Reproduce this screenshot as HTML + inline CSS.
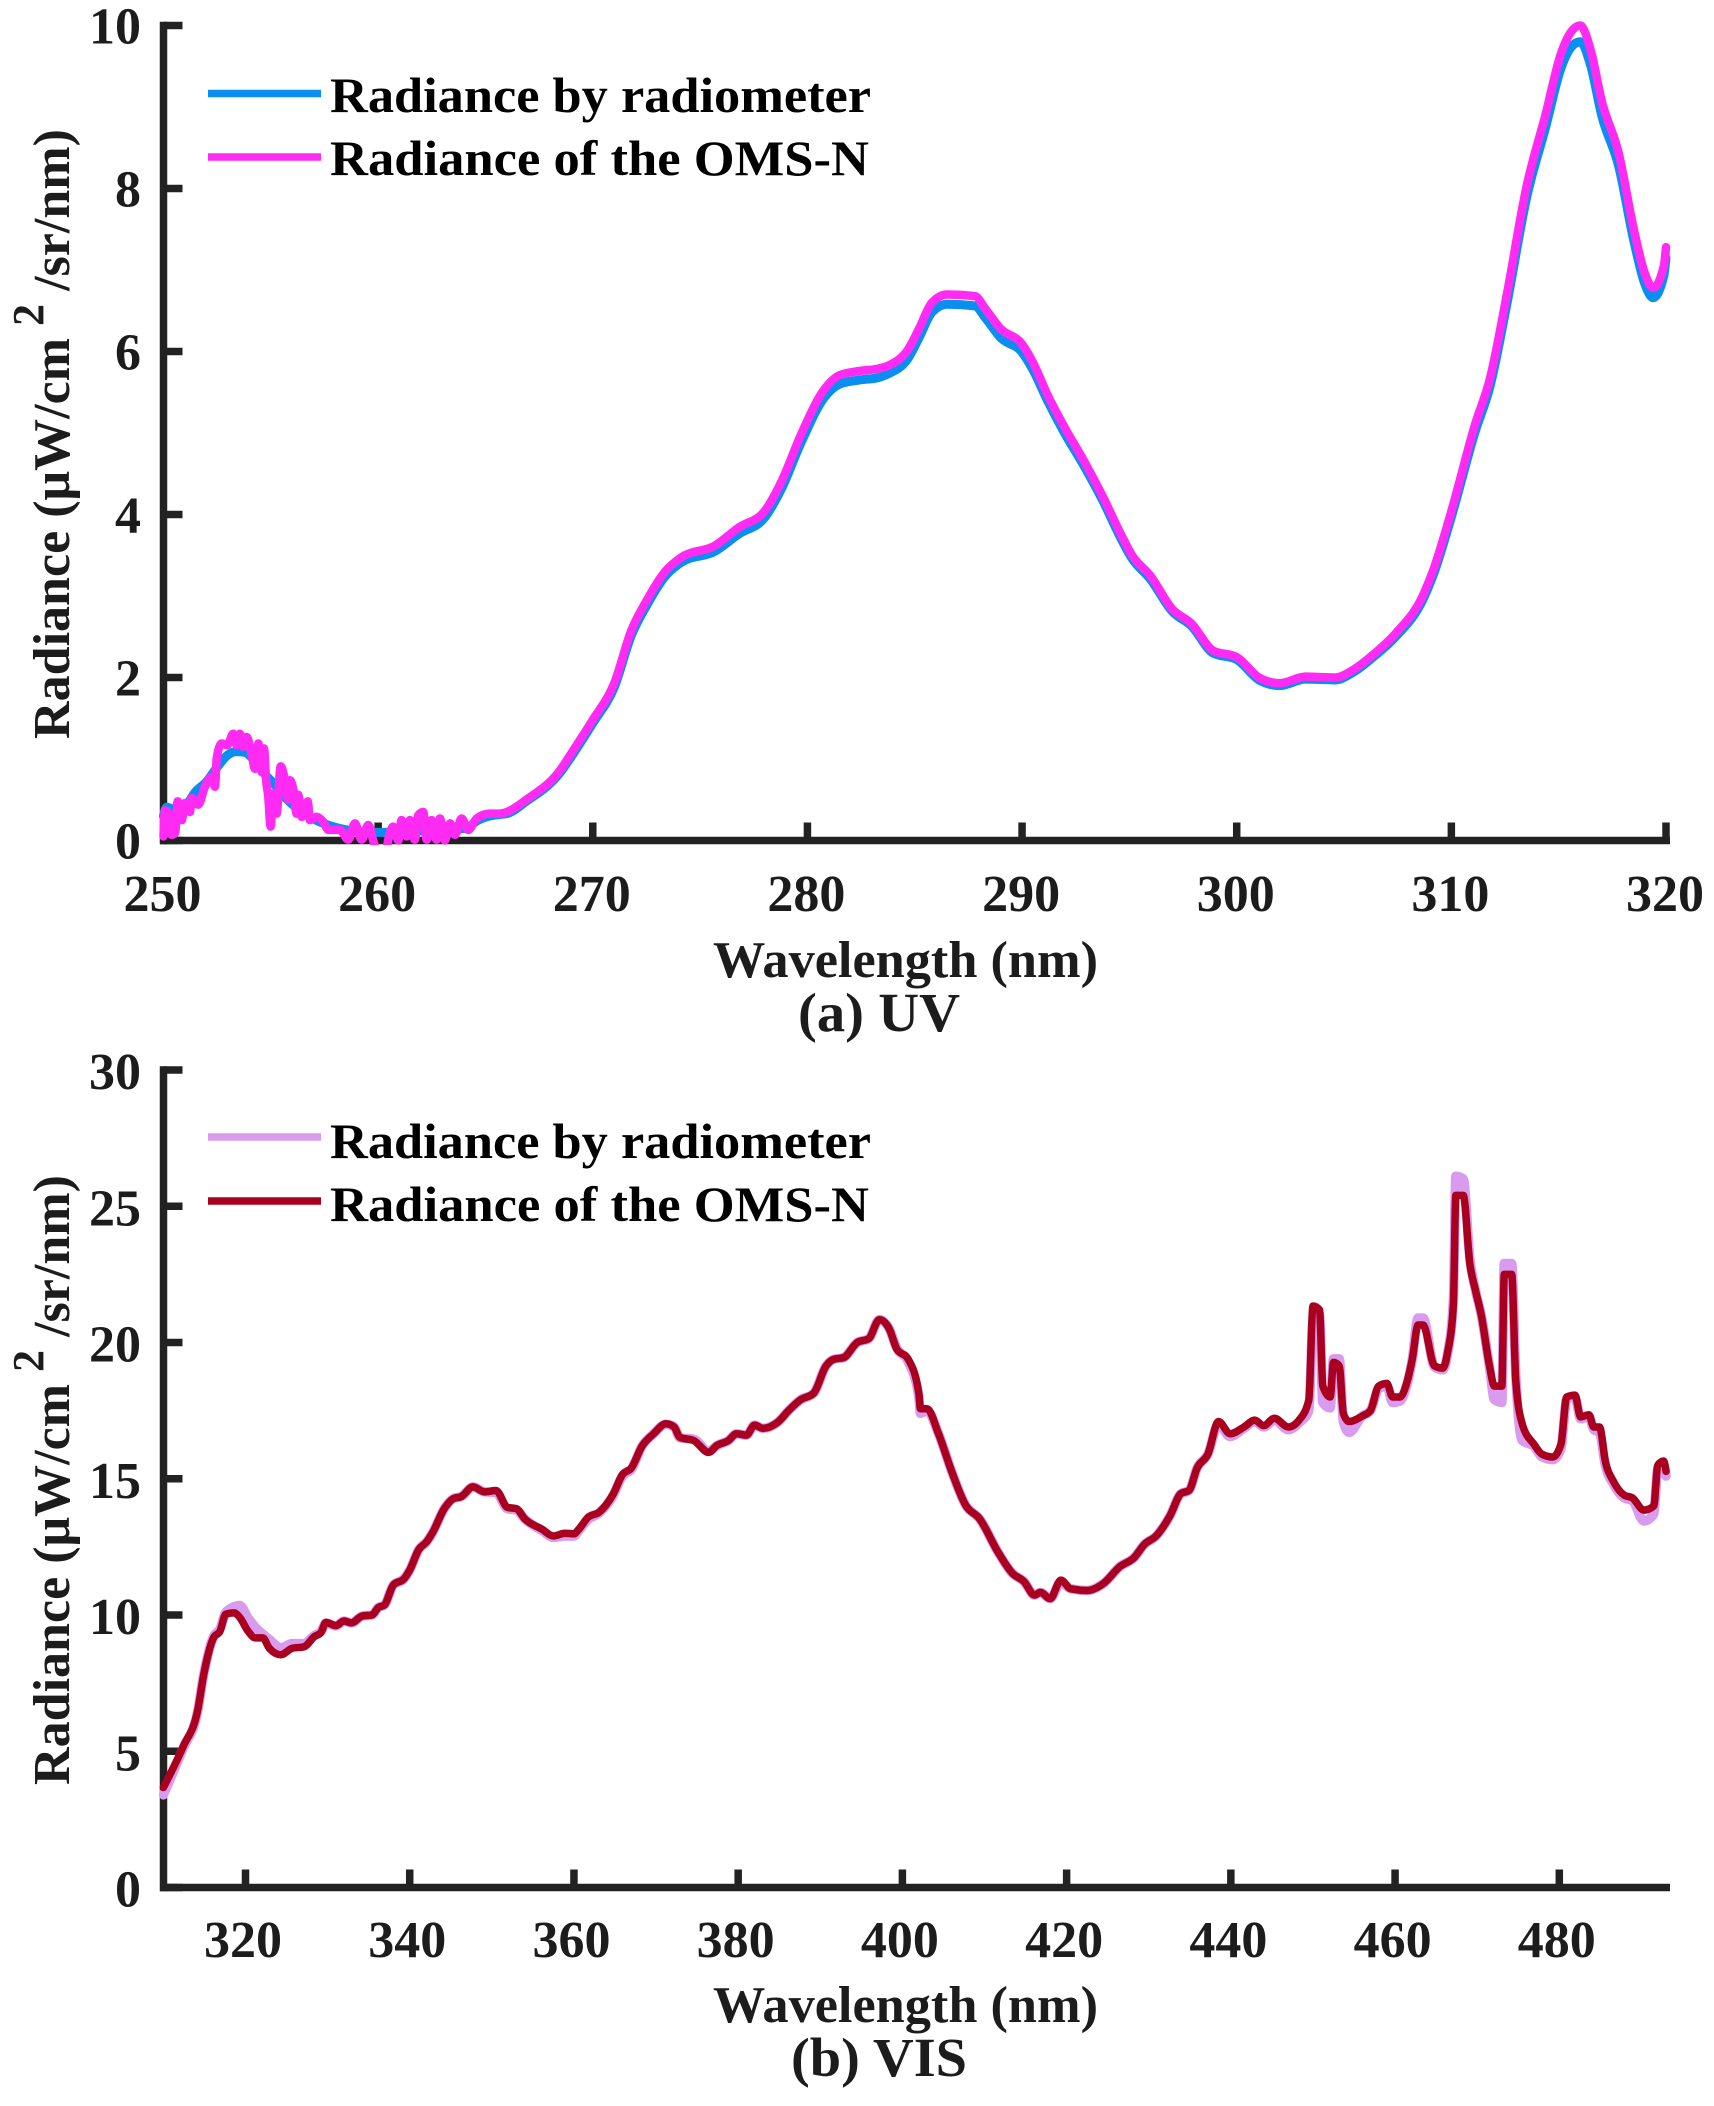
<!DOCTYPE html>
<html lang="en">
<head>
<meta charset="utf-8">
<title>Radiance comparison: UV and VIS</title>
<style>
html,body{margin:0;padding:0;background:#fff;}
svg{display:block;}
text{font-family:"Liberation Serif",serif;font-weight:bold;fill:#1c1c1c;}
.legend-text{fill:#000;}
</style>
</head>
<body>
<svg id="chart" xmlns="http://www.w3.org/2000/svg" width="1714" height="2106" viewBox="0 0 1714 2106">
  <rect width="1714" height="2106" fill="#fff"/>
  <defs>
    <clipPath id="clip-uv"><rect x="159" y="0" width="1512" height="845"/></clipPath>
    <clipPath id="clip-vis"><rect x="159" y="1040" width="1512" height="852"/></clipPath>
  </defs>

  <g>
    <g id="uv-axes"></g>
    <g id="uv-series" clip-path="url(#clip-uv)"></g>
    <text transform="translate(69,739) rotate(-90)" font-size="52" textLength="610" lengthAdjust="spacingAndGlyphs">Radiance (μW/cm<tspan font-size="44" dx="12" dy="-26">2</tspan><tspan dy="26"> /sr/nm)</tspan></text>
    <text x="713" y="977" font-size="52" textLength="385" lengthAdjust="spacingAndGlyphs">Wavelength (nm)</text>
    <text x="798" y="1031" font-size="55" textLength="162" lengthAdjust="spacingAndGlyphs">(a) UV</text>
    <g>
      <line x1="208" x2="321" y1="93.5" y2="93.5" stroke="#0a8ff0" stroke-width="7.5"/>
      <text class="legend-text" x="330" y="112" font-size="50" textLength="541" lengthAdjust="spacingAndGlyphs">Radiance by radiometer</text>
      <line x1="208" x2="321" y1="157" y2="157" stroke="#ff2bf2" stroke-width="7.5"/>
      <text class="legend-text" x="330" y="175" font-size="50" textLength="539" lengthAdjust="spacingAndGlyphs">Radiance of the OMS-N</text>
    </g>
  </g>

  <g>
    <g id="vis-axes"></g>
    <g id="vis-series" clip-path="url(#clip-vis)"></g>
    <text transform="translate(69,1785) rotate(-90)" font-size="52" textLength="610" lengthAdjust="spacingAndGlyphs">Radiance (μW/cm<tspan font-size="44" dx="12" dy="-26">2</tspan><tspan dy="26"> /sr/nm)</tspan></text>
    <text x="713" y="2022" font-size="52" textLength="385" lengthAdjust="spacingAndGlyphs">Wavelength (nm)</text>
    <text x="791" y="2076" font-size="55" textLength="176" lengthAdjust="spacingAndGlyphs">(b) VIS</text>
    <g>
      <line x1="208" x2="321" y1="1137" y2="1137" stroke="#d89bee" stroke-width="7.5"/>
      <text class="legend-text" x="330" y="1158" font-size="50" textLength="541" lengthAdjust="spacingAndGlyphs">Radiance by radiometer</text>
      <line x1="208" x2="321" y1="1201" y2="1201" stroke="#a8001e" stroke-width="7.5"/>
      <text class="legend-text" x="330" y="1221" font-size="50" textLength="539" lengthAdjust="spacingAndGlyphs">Radiance of the OMS-N</text>
    </g>
  </g>
</svg>

<script>
// ---- UV panel data ----
const uvXTicks = [250, 260, 270, 280, 290, 300, 310, 320];
const uvYTicks = [0, 2, 4, 6, 8, 10];

const uvRadiometerWavelengths = [250, 250.15, 250.5, 251, 251.5, 252, 252.5, 253, 253.4, 253.8, 254.2, 254.7, 255.2, 255.7, 256.3, 257.1, 257.9, 258.8, 259.8, 260.4, 261.4, 262.9, 264.1, 264.6, 265.2, 265.7, 266, 266.9, 268.5, 269, 270, 271, 271.8, 272.5, 273.4, 274.1, 275.7, 276.8, 278, 278.8, 279.7, 280.8, 281.5, 282.4, 283.3, 283.8, 284.7, 285.2, 285.8, 286.5, 287.8, 288.3, 289, 290, 290.5, 291.2, 292, 292.9, 293.8, 294.6, 295.1, 296, 297, 297.9, 298.9, 300, 301.1, 302, 303.2, 304.6, 305.4, 306.4, 307.4, 308.7, 309.2, 310, 311.1, 311.8, 312.6, 313.5, 314.4, 315.1, 315.6, 316, 316.5, 317, 317.8, 318.5, 319, 319.4, 319.9, 320];
const uvRadiometerValues = [0.3, 0.41, 0.38, 0.42, 0.6, 0.72, 0.9, 1.05, 1.09, 1.08, 0.99, 0.82, 0.68, 0.52, 0.38, 0.25, 0.17, 0.12, 0.1, 0.1, 0.11, 0.13, 0.15, 0.24, 0.3, 0.32, 0.33, 0.48, 0.84, 1.03, 1.44, 1.88, 2.52, 2.88, 3.25, 3.41, 3.55, 3.76, 3.96, 4.32, 4.88, 5.44, 5.6, 5.65, 5.68, 5.73, 5.92, 6.17, 6.48, 6.58, 6.56, 6.41, 6.17, 5.99, 5.78, 5.39, 4.99, 4.59, 4.15, 3.71, 3.47, 3.2, 2.81, 2.63, 2.3, 2.22, 1.96, 1.9, 1.98, 1.97, 2.06, 2.26, 2.5, 2.97, 3.29, 3.97, 5.01, 5.57, 6.6, 7.88, 8.76, 9.47, 9.74, 9.8, 9.5, 8.9, 8.27, 7.36, 6.84, 6.66, 6.93, 7.15];

const uvOmsWavelengths = [250, 250.07, 250.23, 250.38, 250.54, 250.66, 250.85, 251, 251.23, 251.31, 251.62, 251.93, 252.24, 252.4, 252.48, 252.71, 252.97, 253.25, 253.41, 253.56, 253.72, 253.87, 254.1, 254.26, 254.42, 254.57, 254.68, 254.78, 254.88, 254.99, 255.12, 255.27, 255.46, 255.66, 255.82, 255.89, 256.05, 256.2, 256.28, 256.44, 256.72, 256.82, 257.13, 257.44, 257.68, 258.22, 258.61, 258.92, 259.23, 259.54, 259.77, 260.09, 260.3, 260.47, 260.7, 260.94, 261.09, 261.33, 261.48, 261.71, 261.87, 262.1, 262.26, 262.49, 262.72, 262.88, 263.11, 263.35, 263.58, 263.89, 264.2, 264.59, 265.2, 265.68, 266, 266.9, 268.5, 269, 270, 271, 271.8, 272.5, 273.4, 274.1, 275.7, 276.8, 278, 278.8, 279.7, 280.8, 281.5, 282.4, 283.3, 283.8, 284.7, 285.2, 285.8, 286.5, 287.8, 288.3, 289, 290, 290.5, 291.2, 292, 292.9, 293.8, 294.6, 295.1, 296, 297, 297.9, 298.9, 300, 301.1, 302, 303.2, 304.6, 305.4, 306.4, 307.4, 308.7, 309.2, 310, 311.1, 311.8, 312.6, 313.5, 314.4, 315.1, 315.6, 316, 316.5, 317, 317.8, 318.5, 319, 319.4, 319.9, 320];
const uvOmsValues = [0.05, 0.37, 0.33, 0.07, 0.09, 0.48, 0.25, 0.46, 0.35, 0.52, 0.44, 0.66, 0.78, 0.66, 1.01, 1.19, 1.17, 1.31, 1.17, 1.31, 1.15, 1.27, 1.07, 0.88, 1.19, 0.84, 1.13, 0.74, 0.54, 0.17, 0.58, 0.33, 0.91, 0.74, 0.5, 0.74, 0.62, 0.33, 0.56, 0.29, 0.48, 0.25, 0.29, 0.23, 0.13, 0.13, 0.01, 0.21, 0.01, 0.19, 0, -0.25, -0.25, 0.01, 0.17, 0, 0.25, 0.05, 0.25, 0.01, 0.31, 0.35, 0.01, 0.25, 0.01, 0.27, 0, 0.21, 0.07, 0.27, 0.13, 0.27, 0.33, 0.33, 0.35, 0.5, 0.87, 1.07, 1.48, 1.93, 2.58, 2.94, 3.31, 3.47, 3.62, 3.84, 4.04, 4.41, 4.98, 5.54, 5.71, 5.76, 5.79, 5.83, 6.03, 6.28, 6.6, 6.7, 6.68, 6.52, 6.28, 6.09, 5.87, 5.46, 5.06, 4.65, 4.2, 3.76, 3.51, 3.24, 2.84, 2.66, 2.33, 2.25, 1.99, 1.93, 2.01, 2, 2.09, 2.29, 2.54, 3.02, 3.35, 4.04, 5.1, 5.67, 6.72, 8.02, 8.92, 9.65, 9.93, 10, 9.69, 9.08, 8.43, 7.5, 6.97, 6.78, 7.05, 7.28];

// ---- VIS panel data ----
const visXTicks = [320, 340, 360, 380, 400, 420, 440, 460, 480];
const visYTicks = [0, 5, 10, 15, 20, 25, 30];

const visWavelengths = [310, 312.4, 314.2, 314.9, 316.1, 316.9, 317.6, 318.6, 319.3, 320.3, 321.2, 322.1, 322.9, 324.3, 325.7, 327.1, 328.4, 329.2, 329.8, 331, 332, 332.9, 334.2, 335.4, 336.2, 336.9, 338, 339.3, 340, 341.1, 342.1, 342.8, 344.2, 345.3, 346.3, 347.7, 349.1, 350.5, 351.9, 353, 354, 356.1, 357.5, 358.9, 360, 360.6, 361.7, 363.1, 364.8, 365.9, 367, 368.3, 369.7, 371.2, 372.2, 372.9, 374.6, 376.4, 377.4, 378.8, 379.8, 381, 382, 383, 384.8, 386.2, 387.6, 389.2, 390.7, 391.7, 392.8, 394.5, 395.9, 397.2, 398.4, 399.3, 400.7, 402, 402.2, 403, 404.4, 406, 407.7, 409.4, 411.7, 413.4, 414.8, 416.1, 416.8, 418, 419.3, 420.5, 422.5, 424.5, 426.5, 428.2, 429.5, 430.9, 432.6, 433.9, 434.9, 435.9, 437.2, 438.5, 439.9, 441.6, 442.9, 444, 445.3, 447, 448.3, 449.5, 450, 450.8, 451.2, 452.1, 452.5, 453.2, 453.7, 454.4, 456, 457, 458, 459, 459.7, 460.6, 461.4, 462.1, 462.8, 463.4, 464.8, 465.8, 466.4, 467.1, 467.4, 468.3, 469.1, 469.8, 470.5, 471.5, 472.1, 473, 473.3, 474.2, 474.7, 475.5, 476.9, 477.9, 479.2, 480.2, 480.9, 481.9, 482.6, 483.6, 484.2, 484.9, 485.6, 486.6, 487.9, 488.9, 490.3, 491.5, 492, 492.7, 493];
const visRadiometerValues = [3.4, 5.1, 6.5, 7.8, 9.2, 9.5, 10.1, 10.3, 10.35, 9.9, 9.55, 9.3, 9.1, 8.8, 8.95, 8.95, 9.25, 9.4, 9.7, 9.6, 9.78, 9.71, 9.96, 10, 10.28, 10.36, 11.1, 11.33, 11.65, 12.4, 12.7, 13.03, 13.9, 14.27, 14.35, 14.7, 14.52, 14.5, 13.9, 13.85, 13.53, 13.1, 12.85, 12.9, 12.9, 13.1, 13.5, 13.75, 14.4, 15.1, 15.35, 16.2, 16.65, 17, 16.9, 16.5, 16.45, 16, 16.22, 16.4, 16.65, 16.6, 16.97, 16.85, 17.07, 17.52, 17.9, 18.14, 19.14, 19.39, 19.44, 20, 20.14, 20.84, 20.5, 19.8, 19.3, 18, 17.4, 17.5, 16.65, 15.27, 14.03, 13.53, 12.28, 11.53, 11.23, 10.73, 10.83, 10.6, 11.2, 10.96, 10.9, 11.16, 11.78, 12.1, 12.6, 12.9, 13.65, 14.45, 14.57, 15.4, 15.9, 17, 16.55, 16.85, 17.1, 16.9, 17.15, 16.8, 17.05, 17.5, 20.8, 21, 17.8, 17.6, 19.4, 19.4, 17.1, 16.7, 17.3, 17.5, 18.3, 18.4, 17.8, 17.85, 18.4, 19.4, 20.9, 20.9, 19.1, 19, 19.6, 21.6, 26.1, 26, 23.1, 21.9, 21, 19.1, 17.9, 17.8, 22.9, 22.9, 18.8, 16.4, 16.2, 15.8, 15.7, 16.1, 17.9, 18, 17.2, 17.3, 16.8, 16.7, 15.5, 14.8, 14.3, 14.2, 13.45, 13.7, 15.4, 15.5, 15.1];
const visOmsValues = [3.67, 5.17, 6.54, 7.79, 9.16, 9.41, 10.03, 10.08, 9.91, 9.41, 9.16, 9.16, 8.78, 8.54, 8.78, 8.83, 9.21, 9.36, 9.73, 9.61, 9.78, 9.71, 9.96, 10, 10.28, 10.36, 11.1, 11.33, 11.65, 12.4, 12.7, 13.03, 13.9, 14.27, 14.35, 14.7, 14.52, 14.57, 13.95, 13.9, 13.53, 13.15, 12.9, 13, 12.98, 13.15, 13.58, 13.78, 14.45, 15.15, 15.4, 16.2, 16.65, 17.02, 16.9, 16.52, 16.4, 15.97, 16.22, 16.4, 16.65, 16.6, 16.97, 16.85, 17.07, 17.52, 17.9, 18.14, 19.14, 19.39, 19.44, 20, 20.14, 20.84, 20.5, 19.77, 19.39, 18.14, 17.57, 17.57, 16.65, 15.27, 14.03, 13.53, 12.28, 11.53, 11.23, 10.73, 10.83, 10.6, 11.28, 10.96, 10.9, 11.16, 11.78, 12.1, 12.6, 12.9, 13.65, 14.45, 14.57, 15.4, 15.9, 17.1, 16.65, 16.9, 17.15, 16.95, 17.22, 16.9, 17.15, 17.9, 21.34, 21.2, 18.4, 18, 19.27, 19.14, 17.4, 17.1, 17.3, 17.5, 18.4, 18.5, 18, 18, 18.5, 19.4, 20.64, 20.64, 19.14, 19.06, 19.64, 21.4, 25.4, 25.4, 22.9, 21.9, 21, 19.14, 18.4, 18.4, 22.5, 22.5, 18.6, 17, 16.27, 15.9, 15.8, 16.27, 18, 18.07, 17.27, 17.35, 16.9, 16.9, 15.65, 14.9, 14.4, 14.3, 13.85, 14, 15.5, 15.65, 15.27];

// ---- axis functions ----
const SVG_NS = 'http://www.w3.org/2000/svg';
const AXIS_COLOR = '#222222';
const AXIS_WIDTH = 7.5;
const AXIS_LEFT = 163.5;
const AXIS_RIGHT = 1666;

function uvX(v) { return AXIS_LEFT + (v - 250) * (AXIS_RIGHT - AXIS_LEFT) / 70; }
function uvY(v) { return 840.5 - v * (840.5 - 25.5) / 10; }
function visX(v) { return 245.5 + (v - 320) * (1559.3 - 245.5) / 160; }
function visY(v) { return 1887.5 - v * (1887.5 - 1070) / 30; }

function drawLine(parent, x1, y1, x2, y2, name) {
  const el = document.createElementNS(SVG_NS, 'line');
  el.setAttribute('x1', x1);
  el.setAttribute('y1', y1);
  el.setAttribute('x2', x2);
  el.setAttribute('y2', y2);
  el.setAttribute('stroke', AXIS_COLOR);
  el.setAttribute('stroke-width', AXIS_WIDTH);
  
  
  parent.appendChild(el);
}

function drawLabel(parent, x, y, anchor, label, name) {
  const el = document.createElementNS(SVG_NS, 'text');
  el.setAttribute('x', x);
  el.setAttribute('y', y);
  el.setAttribute('font-size', '52');
  el.setAttribute('text-anchor', anchor);
  el.textContent = label;
  
  
  parent.appendChild(el);
}

function drawAxes(parent, prefix, xTicks, yTicks, sx, sy, xLabelY, yBottom, yTop, xLabelShift, yLabelShift) {
  drawLine(parent, AXIS_LEFT, yTop - AXIS_WIDTH / 2, AXIS_LEFT, yBottom + AXIS_WIDTH / 2, prefix + '-y-axis');
  drawLine(parent, AXIS_LEFT - 3.5, yBottom, 1670, yBottom, prefix + '-x-axis');
  yTicks.forEach(function (t) {
    drawLine(parent, AXIS_LEFT, sy(t), 182.5, sy(t), prefix + '-y-tick');
    drawLabel(parent, 141, sy(t) + yLabelShift, 'end', String(t), prefix + '-y-tick-label');
  });
  xTicks.forEach(function (t) {
    if (sx(t) > AXIS_LEFT + 1) {
      drawLine(parent, sx(t), yBottom, sx(t), yBottom - 18, prefix + '-x-tick');
    }
    drawLabel(parent, sx(t) + xLabelShift, xLabelY, 'middle', String(t), prefix + '-x-tick-label');
  });
}

// Smooth path through the points without overshooting peaks (monotone cubic).
function smoothPath(px, py) {
  const n = px.length;
  const slopes = [];
  for (let i = 1; i < n - 1; i++) {
    const h0 = px[i] - px[i - 1];
    const h1 = px[i + 1] - px[i];
    const s0 = (py[i] - py[i - 1]) / h0;
    const s1 = (py[i + 1] - py[i]) / h1;
    const p = (s0 * h1 + s1 * h0) / (h0 + h1);
    slopes[i] = (Math.sign(s0) + Math.sign(s1)) * Math.min(Math.abs(s0), Math.abs(s1), 0.5 * Math.abs(p));
  }
  slopes[0] = (3 * (py[1] - py[0]) / (px[1] - px[0]) - slopes[1]) / 2;
  slopes[n - 1] = (3 * (py[n - 1] - py[n - 2]) / (px[n - 1] - px[n - 2]) - slopes[n - 2]) / 2;
  let d = 'M' + px[0].toFixed(2) + ' ' + py[0].toFixed(2);
  for (let i = 1; i < n; i++) {
    const dx = (px[i] - px[i - 1]) / 3;
    d += 'C' + (px[i - 1] + dx).toFixed(2) + ' ' + (py[i - 1] + dx * slopes[i - 1]).toFixed(2) + ' ' +
      (px[i] - dx).toFixed(2) + ' ' + (py[i] - dx * slopes[i]).toFixed(2) + ' ' +
      px[i].toFixed(2) + ' ' + py[i].toFixed(2);
  }
  return d;
}

function drawSeries(parent, xs, ys, sx, sy, color, width, name) {
  const el = document.createElementNS(SVG_NS, 'path');
  el.setAttribute('d', smoothPath(xs.map(sx), ys.map(sy)));
  el.setAttribute('fill', 'none');
  el.setAttribute('stroke', color);
  el.setAttribute('stroke-width', width);
  el.setAttribute('stroke-linejoin', 'round');
  el.setAttribute('stroke-linecap', 'round');
  
  
  parent.appendChild(el);
}

const uvAxes = document.getElementById('uv-axes');
const uvSeries = document.getElementById('uv-series');
const visAxes = document.getElementById('vis-axes');
const visSeries = document.getElementById('vis-series');

drawAxes(uvAxes, 'uv', uvXTicks, uvYTicks, uvX, uvY, 911, 840.5, 25.5, -1, 18);
drawSeries(uvSeries, uvRadiometerWavelengths, uvRadiometerValues, uvX, uvY, '#0a8ff0', 9, 'uv-radiometer-line');
drawSeries(uvSeries, uvOmsWavelengths, uvOmsValues, uvX, uvY, '#ff2bf2', 8.5, 'uv-oms-line');

drawAxes(visAxes, 'vis', visXTicks, visYTicks, visX, visY, 1957, 1887.5, 1070, -2.5, 19);
drawSeries(visSeries, visWavelengths, visRadiometerValues, visX, visY, '#d89bee', 9.5, 'vis-radiometer-line');
drawSeries(visSeries, visWavelengths, visOmsValues, visX, visY, '#a8001e', 7.5, 'vis-oms-line');
</script>
</body>
</html>
